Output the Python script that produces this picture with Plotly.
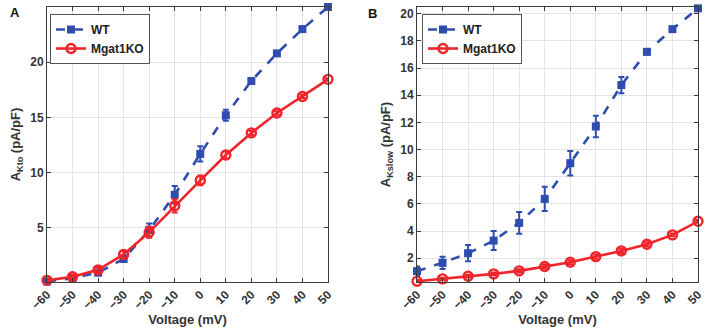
import plotly.graph_objects as go

voltage = [-60, -50, -40, -30, -20, -10, 0, 10, 20, 30, 40, 50]
x_ticks = [-60, -50, -40, -30, -20, -10, 0, 10, 20, 30, 40, 50]

# Panel A: A_Kto
wt_kto = [0.15, 0.45, 0.95, 2.2, 4.8, 8.0, 11.7, 15.2, 18.3, 20.8, 23.0, 25.0]
wt_kto_err = [0.15, 0.2, 0.25, 0.3, 0.6, 0.8, 0.7, 0.5, 0.2, 0.15, 0.15, 0.1]
ko_kto = [0.25, 0.57, 1.2, 2.6, 4.6, 7.0, 9.3, 11.6, 13.6, 15.4, 16.9, 18.45]
ko_kto_err = [0.15, 0.2, 0.25, 0.3, 0.5, 0.6, 0.45, 0.35, 0.2, 0.15, 0.15, 0.1]
yticks_a = [5, 10, 15, 20]

# Panel B: A_Kslow
wt_ks = [1.05, 1.66, 2.37, 3.3, 4.6, 6.37, 9.0, 11.7, 14.75, 17.2, 18.87, 20.4]
wt_ks_err = [0.35, 0.45, 0.6, 0.7, 0.8, 0.9, 0.9, 0.8, 0.6, 0.2, 0.15, 0.1]
ko_ks = [0.31, 0.48, 0.68, 0.85, 1.07, 1.39, 1.71, 2.12, 2.54, 3.03, 3.72, 4.72]
ko_ks_err = [0.08, 0.08, 0.1, 0.1, 0.12, 0.15, 0.15, 0.15, 0.15, 0.15, 0.1, 0.1]
yticks_b = [2, 4, 6, 8, 10, 12, 14, 16, 18, 20]

BLUE = "#2E4DAE"
RED = "#F0242B"
FONT = "Liberation Sans, Arial, sans-serif"

W, H = 708, 329
fig = go.Figure()

def add_pair(xa, ya, wt, wte, ko, koe, leg):
    fig.add_trace(go.Scatter(
        x=voltage, y=wt, xaxis=xa, yaxis=ya, name="<b>WT</b>", legend=leg,
        mode="lines+markers", cliponaxis=False,
        line=dict(color=BLUE, width=2.6, dash="dash"),
        marker=dict(symbol="square", size=8, color=BLUE),
        error_y=dict(type="data", array=wte, color=BLUE, thickness=2, width=3),
    ))
    fig.add_trace(go.Scatter(
        x=voltage, y=ko, xaxis=xa, yaxis=ya, name="<b>Mgat1KO</b>", legend=leg,
        mode="lines+markers", cliponaxis=False,
        line=dict(color=RED, width=2.6),
        marker=dict(symbol="circle-open", size=9, color=RED, line=dict(width=2.4, color=RED)),
        error_y=dict(type="data", array=koe, color=RED, thickness=2, width=3),
    ))

add_pair("x", "y", wt_kto, wt_kto_err, ko_kto, ko_kto_err, "legend")
add_pair("x2", "y2", wt_ks, wt_ks_err, ko_ks, ko_ks_err, "legend2")

axis_common = dict(
    showgrid=True, gridcolor="#E3E3E3", gridwidth=1,
    showline=True, linecolor="#3a3a3a", linewidth=1, mirror="ticks",
    ticks="inside", ticklen=4, tickcolor="#3a3a3a",
    tickfont=dict(family=FONT, size=12, color="#333333", weight="bold"),
    zeroline=False, automargin=False,
)

xa = (47 / W, 328 / W)
xb = (417 / W, 698 / W)
yd = (1 - 282 / H, 1 - 7 / H)

title_font = dict(size=13, family=FONT, color="#333333")
legend_common = dict(yanchor="top", xanchor="left", bgcolor="white", bordercolor="#555555", borderwidth=1,
                     font=dict(size=12, family=FONT, color="#222222"),
                     tracegroupgap=0, itemwidth=30)

fig.update_layout(
    width=W, height=H,
    margin=dict(l=0, r=0, t=0, b=0, autoexpand=False),
    paper_bgcolor="white", plot_bgcolor="white",
    font=dict(family=FONT, color="#333333"),
    showlegend=True,
    xaxis=dict(domain=list(xa), anchor="y", range=[-60, 50], tickvals=x_ticks, tickangle=-45,
               title=dict(text="<b>Voltage (mV)</b>", font=title_font, standoff=0),
               **axis_common),
    yaxis=dict(domain=list(yd), anchor="x", range=[0.1, 25.0], tickvals=yticks_a,
               title=dict(text="<b>A<sub>Kto</sub> (pA/pF)</b>", font=title_font, standoff=6),
               **axis_common),
    xaxis2=dict(domain=list(xb), anchor="y2", range=[-60, 50], tickvals=x_ticks, tickangle=-45,
                title=dict(text="<b>Voltage (mV)</b>", font=title_font, standoff=0),
                **axis_common),
    yaxis2=dict(domain=list(yd), anchor="x2", range=[0.25, 20.5], tickvals=yticks_b,
                title=dict(text="<b>A<sub>Kslow</sub> (pA/pF)</b>", font=title_font, standoff=6),
                **axis_common),
    legend=dict(x=50 / W, y=1 - 14 / H, **legend_common),
    legend2=dict(x=422 / W, y=1 - 14 / H, **legend_common),
    annotations=[
        dict(text="<b>A</b>", x=8 / W, y=1 - 12 / H, xref="paper", yref="paper", showarrow=False,
             xanchor="left", yanchor="middle", font=dict(size=13, family=FONT, color="#111111")),
        dict(text="<b>B</b>", x=366 / W, y=1 - 14 / H, xref="paper", yref="paper", showarrow=False,
             xanchor="left", yanchor="middle", font=dict(size=13, family=FONT, color="#111111")),
    ],
)

fig.write_html("out.html", config={"displayModeBar": False},
               post_script="document.body.style.margin='0';document.body.style.overflow='hidden';")
